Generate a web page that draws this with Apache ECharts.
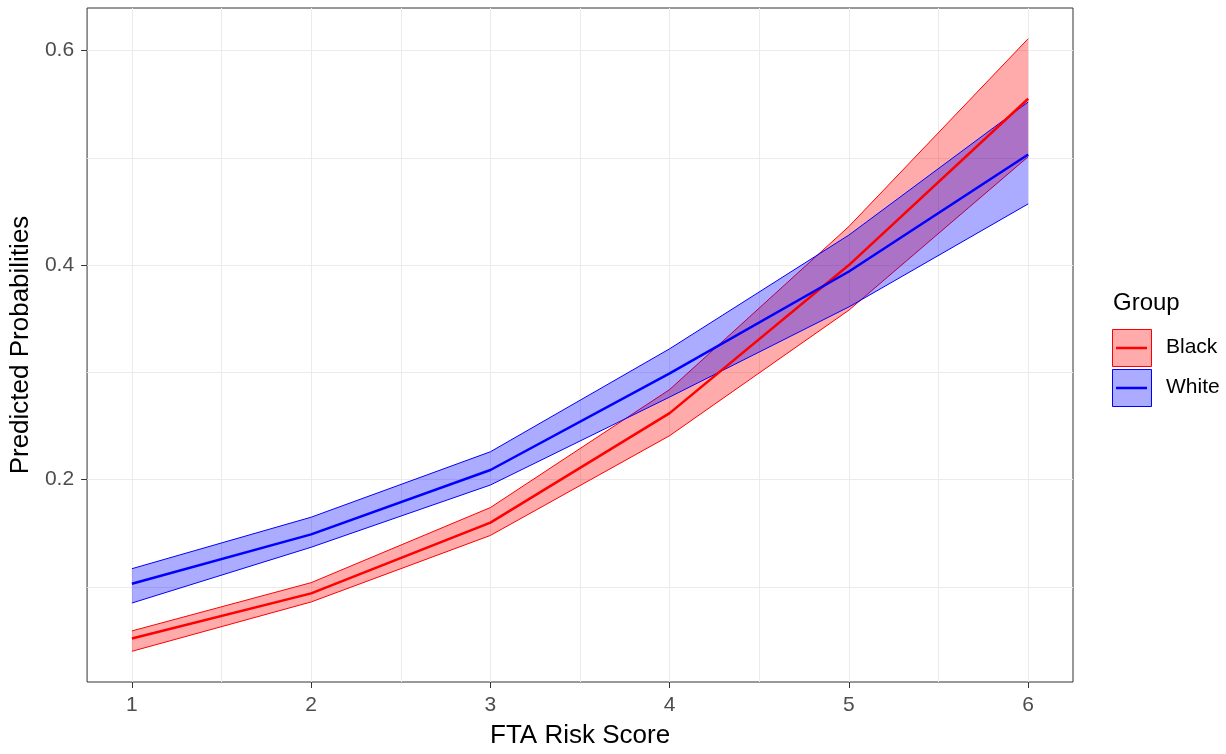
<!DOCTYPE html>
<html>
<head>
<meta charset="utf-8">
<script src="https://cdn.jsdelivr.net/npm/echarts@6/dist/echarts.min.js"></script>
<style>
  html, body { margin: 0; padding: 0; background: #ffffff; }
  #chart { width: 1226px; height: 754px; }
</style>
</head>
<body>
<div id="chart"></div>
<script>
// ---- data ----
const riskScores = [1, 2, 3, 4, 5, 6];
const blackMean  = [0.052, 0.094, 0.160, 0.262, 0.400, 0.555];
const blackLower = [0.040, 0.086, 0.148, 0.241, 0.358, 0.501];
const blackUpper = [0.059, 0.104, 0.174, 0.284, 0.436, 0.611];
const whiteMean  = [0.103, 0.149, 0.209, 0.299, 0.394, 0.503];
const whiteLower = [0.085, 0.137, 0.195, 0.277, 0.361, 0.457];
const whiteUpper = [0.117, 0.165, 0.226, 0.322, 0.428, 0.552];
const xTickValues = [1, 2, 3, 4, 5, 6];
const xGridValues = [1, 1.5, 2, 2.5, 3, 3.5, 4, 4.5, 5, 5.5, 6];
const yTickValues = [0.2, 0.4, 0.6];
const yGridValues = [0.1, 0.2, 0.3, 0.4, 0.5, 0.6];
const groups = ['Black', 'White'];

const FONT = '"Liberation Sans", Arial, sans-serif';
const RED = '#FF0000', BLUE = '#0000FF';
const RED_FILL = 'rgba(255,0,0,0.33)', BLUE_FILL = 'rgba(0,0,255,0.33)';

function pairs(xs, ys) { return xs.map((x, i) => [x, ys[i]]); }

function ribbonSeries(name, lower, upper, color, fill) {
  const data = riskScores.map((x, i) => [x, lower[i], upper[i]]);
  return {
    name: name, type: 'custom', silent: true,
    encode: { x: 0, y: [1, 2] },
    data: data,
    renderItem: function (params, api) {
      if (params.dataIndex !== 0) return null;
      const up = data.map(d => api.coord([d[0], d[2]]));
      const lo = data.map(d => api.coord([d[0], d[1]]));
      const poly = up.concat(lo.slice().reverse());
      return {
        type: 'group',
        children: [
          { type: 'polygon', shape: { points: poly }, style: { fill: fill, stroke: null } },
          { type: 'polyline', shape: { points: up }, style: { fill: null, stroke: color, lineWidth: 1 } },
          { type: 'polyline', shape: { points: lo }, style: { fill: null, stroke: color, lineWidth: 1 } }
        ]
      };
    }
  };
}

function meanSeries(name, mean, color) {
  return { name: name, type: 'line', data: pairs(riskScores, mean), symbol: 'none', silent: true,
           lineStyle: { color: color, width: 2.5 }, itemStyle: { color: color } };
}

const chart = echarts.init(document.getElementById('chart'), null, { renderer: 'canvas' });

const option = {
  animation: false,
  backgroundColor: '#ffffff',
  grid: { left: 86, top: 8, width: 987, height: 682, show: true, borderColor: '#333333', borderWidth: 1, backgroundColor: '#ffffff', containLabel: false },
  xAxis: [
    { type: 'value', min: 0.75, max: 6.25, position: 'bottom',
      name: 'FTA Risk Score', nameLocation: 'middle', nameGap: 41,
      nameTextStyle: { fontFamily: FONT, fontSize: 26, color: '#000000' },
      axisLine: { show: false },
      axisTick: { show: false, customValues: xGridValues },
      axisLabel: { customValues: xTickValues, margin: 13, fontFamily: FONT, fontSize: 21, color: '#4D4D4D',
                   formatter: v => String(v) },
      splitLine: { show: true, lineStyle: { color: '#EBEBEB', width: 1 } } },
    { type: 'value', min: 0.75, max: 6.25, position: 'bottom',
      axisLine: { show: false },
      axisTick: { show: true, customValues: xTickValues, length: 6, lineStyle: { color: '#333333', width: 1 } },
      axisLabel: { show: false },
      splitLine: { show: false } }
  ],
  yAxis: [
    { type: 'value', min: 0.0114, max: 0.6396, position: 'left',
      name: 'Predicted Probabilities', nameLocation: 'middle', nameGap: 48,
      nameTextStyle: { fontFamily: FONT, fontSize: 26, color: '#000000' },
      axisLine: { show: false },
      axisTick: { show: false, customValues: yGridValues },
      axisLabel: { customValues: yTickValues, margin: 13, fontFamily: FONT, fontSize: 21, color: '#4D4D4D',
                   formatter: v => v.toFixed(1) },
      splitLine: { show: true, lineStyle: { color: '#EBEBEB', width: 1 } } },
    { type: 'value', min: 0.0114, max: 0.6396, position: 'left',
      axisLine: { show: false },
      axisTick: { show: true, customValues: yTickValues, length: 6, lineStyle: { color: '#333333', width: 1 } },
      axisLabel: { show: false },
      splitLine: { show: false } }
  ],
  legend: { show: false },
  series: [
    ribbonSeries(groups[0], blackLower, blackUpper, RED, RED_FILL),
    meanSeries(groups[0], blackMean, RED),
    ribbonSeries(groups[1], whiteLower, whiteUpper, BLUE, BLUE_FILL),
    meanSeries(groups[1], whiteMean, BLUE)
  ],
  graphic: [
    { type: 'text', left: 1113, top: 291, style: { text: 'Group', font: '24px ' + FONT, fill: '#000000' } },
    { type: 'rect', left: 1112, top: 329, shape: { width: 39, height: 37 }, style: { fill: RED_FILL, stroke: RED, lineWidth: 1 } },
    { type: 'line', shape: { x1: 1116, y1: 348, x2: 1147, y2: 348 }, style: { stroke: RED, lineWidth: 2.5 } },
    { type: 'text', left: 1166, top: 337, style: { text: groups[0], font: '21px ' + FONT, fill: '#000000' } },
    { type: 'rect', left: 1112, top: 369, shape: { width: 39, height: 37 }, style: { fill: BLUE_FILL, stroke: BLUE, lineWidth: 1 } },
    { type: 'line', shape: { x1: 1116, y1: 388, x2: 1147, y2: 388 }, style: { stroke: BLUE, lineWidth: 2.5 } },
    { type: 'text', left: 1166, top: 377, style: { text: groups[1], font: '21px ' + FONT, fill: '#000000' } }
  ]
};
chart.setOption(option);
</script>
</body>
</html>
